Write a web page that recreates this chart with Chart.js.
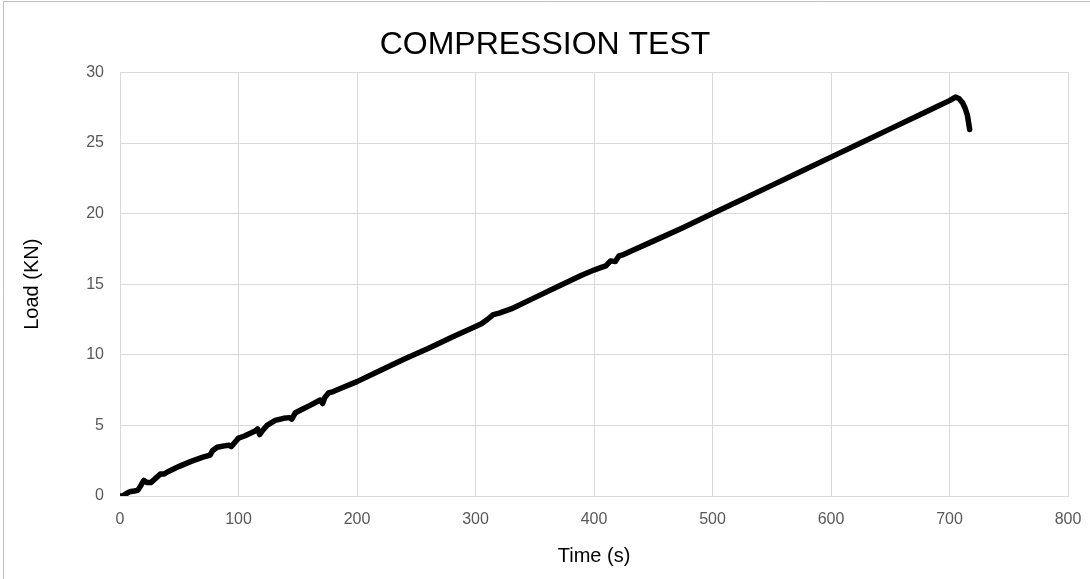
<!DOCTYPE html>
<html>
<head>
<meta charset="utf-8">
<script src="https://cdn.jsdelivr.net/npm/chart.js@4.4.1/dist/chart.umd.min.js"></script>
<style>
  html, body { margin: 0; padding: 0; background: #fff; }
  #wrap { width: 1090px; height: 579px; position: relative; }
</style>
</head>
<body>
<div id="wrap"><canvas id="grafico"></canvas></div>
<script>
// tempo (s) e carga (KN)
const tempos = [0, 2, 5, 8, 12, 15, 18, 20, 23, 26, 30, 34, 37, 40, 50, 60, 70, 76, 78, 82,
  88, 92, 94, 97, 100, 105, 110, 114, 116, 118, 120, 124, 131, 138, 143, 145, 148, 155, 160, 169,
  171, 173, 176, 180, 190, 200, 220, 240, 260, 280, 300, 305, 310, 315, 320, 330, 350, 370, 390, 400,
  405, 410, 414, 418, 421, 425, 430, 450, 475, 500, 525, 550, 575, 600, 625, 650, 675, 690, 700, 705,
  708, 711, 713, 715, 716, 717];
const cargas = [0, 0, 0.15, 0.3, 0.35, 0.4, 0.8, 1.1, 0.95, 0.95, 1.25, 1.55, 1.55, 1.7, 2.1, 2.45, 2.75, 2.9, 3.2, 3.45,
  3.55, 3.6, 3.5, 3.8, 4.1, 4.25, 4.45, 4.6, 4.75, 4.35, 4.6, 5.0, 5.35, 5.5, 5.55, 5.45, 5.9, 6.2, 6.4, 6.8,
  6.55, 7.0, 7.3, 7.4, 7.75, 8.1, 8.9, 9.7, 10.45, 11.25, 12.0, 12.2, 12.5, 12.85, 12.95, 13.25, 14.05, 14.85, 15.65, 16.0,
  16.15, 16.3, 16.65, 16.6, 17.0, 17.1, 17.3, 18.05, 19.0, 20.0, 21.0, 22.0, 23.0, 24.0, 25.0, 26.0, 27.0, 27.6, 28.0, 28.25,
  28.15, 27.85, 27.5, 27.0, 26.5, 25.95];
const ticksX = [0, 100, 200, 300, 400, 500, 600, 700, 800];
const ticksY = [0, 5, 10, 15, 20, 25, 30];

const pontos = tempos.map((t, i) => ({ x: t, y: cargas[i] }));

// moldura cinza (so topo e esquerda aparecem no recorte)
const moldura = {
    id: 'moldura',
    afterDraw(chart) {
        const c = chart.ctx;
        c.save();
        c.strokeStyle = '#bfbfbf';
        c.lineWidth = 1;
        c.beginPath();
        c.moveTo(3.5, 579);
        c.lineTo(3.5, 1.5);
        c.lineTo(1090, 1.5);
        c.stroke();
        c.restore();
    }
};

const ctx = document.getElementById('grafico');
const myChart = new Chart(ctx, {
    type: 'line',
    data: {
        datasets: [{
            data: pontos,
            borderColor: '#000000',
            backgroundColor: '#000000',
            borderWidth: 5.5,
            pointRadius: 0,
            tension: 0,
            borderJoinStyle: 'round',
            borderCapStyle: 'round',
            fill: false
        }]
    },
    options: {
        responsive: true,
        maintainAspectRatio: false,
        animation: false,
        layout: { padding: 0 },
        plugins: {
            legend: { display: false },
            tooltip: { enabled: false },
            title: {
                display: true,
                text: 'COMPRESSION TEST',
                color: '#000000',
                font: { family: 'Liberation Sans', size: 32, weight: 'normal' },
                padding: { top: 26, bottom: 8 }
            }
        },
        scales: {
            x: {
                type: 'linear',
                min: 0,
                max: 800,
                afterBuildTicks: s => { s.ticks = ticksX.map(v => ({ value: v })); },
                afterFit: s => { s.height = 83; s.paddingRight = 22; s.paddingLeft = 0; },
                grid: { color: '#d9d9d9', drawTicks: false },
                border: { color: '#d9d9d9' },
                ticks: {
                    color: '#595959',
                    padding: 14,
                    maxRotation: 0,
                    font: { family: 'Liberation Sans', size: 16 }
                },
                title: {
                    display: true,
                    text: 'Time (s)',
                    color: '#000000',
                    font: { family: 'Liberation Sans', size: 20 },
                    padding: { top: 0, bottom: 11 }
                }
            },
            y: {
                min: 0,
                max: 30,
                afterBuildTicks: s => { s.ticks = ticksY.map(v => ({ value: v })); },
                afterFit: s => { s.width = 120; },
                grid: { color: '#d9d9d9', drawTicks: false },
                border: { color: '#d9d9d9' },
                ticks: {
                    color: '#595959',
                    padding: 16,
                    font: { family: 'Liberation Sans', size: 16 }
                },
                title: {
                    display: true,
                    text: 'Load (KN)',
                    color: '#000000',
                    font: { family: 'Liberation Sans', size: 20 },
                    padding: { top: 20, bottom: 0 }
                }
            }
        }
    },
    plugins: [moldura]
});
</script>
</body>
</html>
